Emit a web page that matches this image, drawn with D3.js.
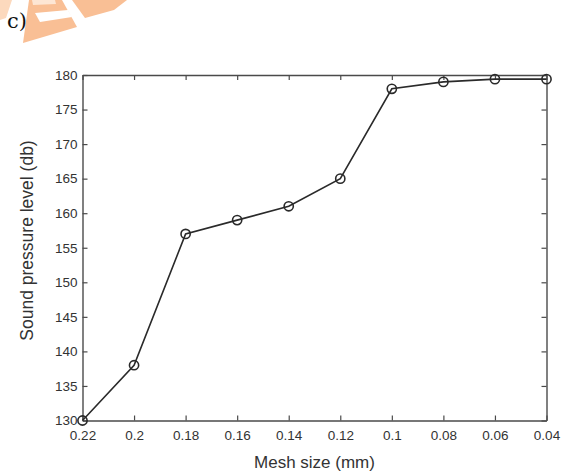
<!DOCTYPE html>
<html>
<head>
<meta charset="utf-8">
<script src="https://cdn.jsdelivr.net/npm/d3@7"></script>
<style>
  html, body { margin: 0; padding: 0; background: #fff; }
  svg { display: block; }
</style>
</head>
<body>
<svg id="chart" width="566" height="474"></svg>
<script>
// Mesh size (mm) from coarse to fine, and the measured sound pressure level (db)
const meshSizes = ["0.22", "0.2", "0.18", "0.16", "0.14", "0.12", "0.1", "0.08", "0.06", "0.04"];
const soundLevels = [130, 138, 157, 159, 161, 165, 178, 179, 179.4, 179.4];
const yTicks = [130, 135, 140, 145, 150, 155, 160, 165, 170, 175, 180];

(function draw() {
  const svg = d3.select("#chart");
  const W = 566, H = 474;
  const margin = { left: 82.5, right: W - 546.5, top: 75, bottom: H - 420.5 };
  const innerW = W - margin.left - margin.right;
  const innerH = H - margin.top - margin.bottom;

  // Faded orange stamp in the upper-left corner
  svg.append("path").attr("d", "M0,0 L12,0 L6,18 L0,20 Z").attr("fill", "#fcd9bd");
  const stamp = svg.append("g").attr("fill", "#f9bf95");
  stamp.append("path").attr("d", "M29,0 L62,0 L77,27 L23,43 Z");
  stamp.append("path").attr("d", "M72,0 L127,0 L114,10 L85,18 Z");
  svg.append("path").attr("d", "M35,13 L68,10 L72,17 L40,22 Z").attr("fill", "#fff");
  svg.append("path").attr("d", "M32,0 L55,0 L56,4 L33,5 Z").attr("fill", "#fde6d4");

  // Panel letter
  svg.append("text")
    .attr("x", 7).attr("y", 28)
    .attr("font-family", "'DejaVu Serif', 'Liberation Serif', serif")
    .attr("font-size", 21)
    .attr("fill", "#111")
    .text("c)");

  const x = d3.scalePoint().domain(meshSizes).range([0, innerW]).padding(0);
  const y = d3.scaleLinear().domain([130, 180]).range([innerH, 0]);

  const g = svg.append("g").attr("transform", `translate(${margin.left},${margin.top})`);

  const axisColor = "#4a4a4a";
  const labelColor = "#333";
  const tickLen = 5;
  const fontSans = "Arial, 'Liberation Sans', sans-serif";

  // Box with inward ticks on every side
  const axB = g.append("g").attr("transform", `translate(0,${innerH})`)
    .call(d3.axisBottom(x).tickSizeInner(-tickLen).tickSizeOuter(0).tickPadding(10));
  const axT = g.append("g")
    .call(d3.axisTop(x).tickSizeInner(-tickLen).tickSizeOuter(0).tickFormat(""));
  const axL = g.append("g")
    .call(d3.axisLeft(y).tickValues(yTicks).tickSizeInner(-tickLen).tickSizeOuter(0).tickPadding(5));
  const axR = g.append("g").attr("transform", `translate(${innerW},0)`)
    .call(d3.axisRight(y).tickValues(yTicks).tickSizeInner(-tickLen).tickSizeOuter(0).tickFormat(""));

  [axB, axT, axL, axR].forEach(a => {
    a.select(".domain").attr("stroke", axisColor).attr("stroke-width", 1.4);
    a.selectAll(".tick line").attr("stroke", axisColor).attr("stroke-width", 1.2);
    a.selectAll(".tick text")
      .attr("fill", labelColor)
      .attr("font-family", fontSans)
      .attr("font-size", 13.5);
  });

  // Data line with open circle markers
  const line = d3.line()
    .x((d, i) => x(meshSizes[i]))
    .y(d => y(d));

  g.append("path")
    .datum(soundLevels)
    .attr("d", line)
    .attr("fill", "none")
    .attr("stroke", "#2a2a2a")
    .attr("stroke-width", 1.6);

  g.selectAll("circle.pt")
    .data(soundLevels)
    .join("circle")
    .attr("class", "pt")
    .attr("cx", (d, i) => x(meshSizes[i]))
    .attr("cy", d => y(d))
    .attr("r", 4.6)
    .attr("fill", "none")
    .attr("stroke", "#2a2a2a")
    .attr("stroke-width", 1.6);

  // Axis titles
  svg.append("text")
    .attr("x", margin.left + innerW / 2)
    .attr("y", 468)
    .attr("text-anchor", "middle")
    .attr("font-family", fontSans)
    .attr("font-size", 17)
    .attr("fill", labelColor)
    .text("Mesh size (mm)");

  svg.append("text")
    .attr("transform", "translate(33,240.5) rotate(-90)")
    .attr("text-anchor", "middle")
    .attr("font-family", fontSans)
    .attr("font-size", 17.5)
    .attr("fill", labelColor)
    .text("Sound pressure level (db)");
})();
</script>
</body>
</html>
